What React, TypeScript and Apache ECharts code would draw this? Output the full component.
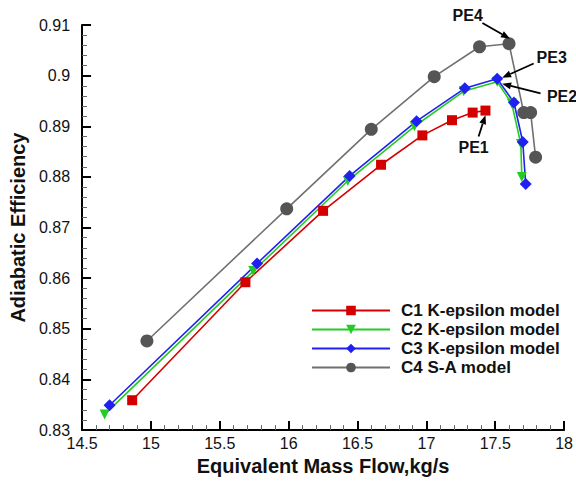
import React, { useEffect, useRef } from "react";
import * as echarts from "echarts";

const c1X = [14.864, 15.686, 16.25, 16.671, 16.971, 17.186, 17.336, 17.429];
const c1Y = [0.8359, 0.8592, 0.8733, 0.8824, 0.8882, 0.8912, 0.8927, 0.8931];

const c2X = [14.664, 15.743, 16.429, 16.914, 17.271, 17.514, 17.62, 17.686, 17.693];
const c2Y = [0.8331, 0.8614, 0.8792, 0.89, 0.8969, 0.8988, 0.8945, 0.8865, 0.88];

const c3X = [14.7, 15.771, 16.443, 16.929, 17.279, 17.514, 17.636, 17.7, 17.721];
const c3Y = [0.8349, 0.8629, 0.8802, 0.891, 0.8975, 0.8994, 0.8947, 0.8869, 0.8786];

const c4X = [14.971, 15.986, 16.6, 17.057, 17.386, 17.6, 17.707, 17.757, 17.793];
const c4Y = [0.8476, 0.8737, 0.8894, 0.8998, 0.9057, 0.9063, 0.8927, 0.8927, 0.8839];

const seriesNames = ["C1 K-epsilon model", "C2 K-epsilon model", "C3 K-epsilon model", "C4 S-A model"];

// annotations: label, text anchor (data coords), arrow start and arrow tip (data coords)
const annLabels = ["PE1", "PE2", "PE3", "PE4"];
const annText = [
  [17.343, 0.8859],
  [17.985, 0.8959],
  [17.91, 0.9035],
  [17.3, 0.9118],
];
const annArrowFrom = [
  [17.379, 0.888],
  [17.829, 0.8965],
  [17.779, 0.9024],
  [17.407, 0.9104],
];
const annArrowTo = [
  [17.429, 0.8922],
  [17.55, 0.8984],
  [17.55, 0.8996],
  [17.607, 0.9073],
];

const xTicks = { min: 14.5, max: 18, interval: 0.5 };
const yTicks = { min: 0.83, max: 0.91, interval: 0.01 };

const zip = (xs: number[], ys: number[]) => xs.map((x, i) => [x, ys[i]]);

export default function App() {
  const ref = useRef<HTMLDivElement>(null);
  useEffect(() => {
    document.body.style.margin = "0";
    const chart = echarts.init(ref.current!, undefined, { renderer: "svg" });
    const font = "Liberation Sans, Arial, sans-serif";
    const axisCommon = {
      axisLine: { show: true, onZero: false, lineStyle: { color: "#000", width: 2 } },
      axisTick: { show: true, inside: true, length: 9, lineStyle: { color: "#000", width: 2 } },
      minorTick: { show: true, splitNumber: 5, length: 5, lineStyle: { color: "#666", width: 1 } },
      splitLine: { show: false },
      axisLabel: { color: "#111", fontSize: 16, fontFamily: font },
      nameTextStyle: { color: "#111", fontSize: 20, fontWeight: "bold" as const, fontFamily: font },
    };
    const mkSeries = (name: string, data: number[][], color: string, symbol: string, size: number, rotate = 0, lineColor?: string) => ({
      name,
      type: "line",
      data,
      symbol,
      symbolSize: size,
      symbolRotate: rotate,
      clip: false,
      lineStyle: { color: lineColor || color, width: 1.6 },
      itemStyle: { color },
    });
    chart.setOption({
      animation: false,
      backgroundColor: "#fff",
      grid: { left: 81.5, right: 3, top: 25, bottom: 48, containLabel: false },
      legend: {
        data: seriesNames,
        orient: "vertical",
        left: 306,
        top: 297,
        itemWidth: 78,
        itemHeight: 12,
        itemGap: 2,
        textStyle: { color: "#111", fontSize: 17, lineHeight: 17, fontWeight: "bold", fontFamily: font, padding: [0, 0, 0, 6] },
      },
      xAxis: {
        type: "value",
        ...xTicks,
        name: "Equivalent Mass Flow,kg/s",
        nameLocation: "middle",
        nameGap: 25,
        ...axisCommon,
        axisLabel: { ...axisCommon.axisLabel, margin: 5 },
      },
      yAxis: {
        type: "value",
        ...yTicks,
        name: "Adiabatic Efficiency",
        nameLocation: "middle",
        nameGap: 36,
        ...axisCommon,
        axisLabel: { ...axisCommon.axisLabel, margin: 12 },
      },
      series: [
        mkSeries(seriesNames[0], zip(c1X, c1Y), "#d40000", "rect", 10),
        mkSeries(seriesNames[1], zip(c2X, c2Y), "#22cc22", "triangle", 10, 180),
        mkSeries(seriesNames[2], zip(c3X, c3Y), "#2020f0", "diamond", 12),
        mkSeries(seriesNames[3], zip(c4X, c4Y), "#555555", "circle", 13, 0, "#707070"),
      ],
    });

    const px = (c: number[]) => chart.convertToPixel({ xAxisIndex: 0, yAxisIndex: 0 }, c) as number[];
    const graphics: any[] = [];
    annLabels.forEach((label, i) => {
      const t = px(annText[i]);
      const a = px(annArrowFrom[i]);
      const b = px(annArrowTo[i]);
      const dx = b[0] - a[0];
      const dy = b[1] - a[1];
      const len = Math.sqrt(dx * dx + dy * dy) || 1;
      const ux = dx / len;
      const uy = dy / len;
      const hl = 9;
      const hw = 3.5;
      const bx = b[0] - ux * hl;
      const by = b[1] - uy * hl;
      graphics.push({
        type: "text",
        x: t[0],
        y: t[1],
        z: 100,
        style: { text: label, fill: "#111", fontSize: 16, fontWeight: "bold", fontFamily: font, align: "center", verticalAlign: "middle" },
      });
      graphics.push({
        type: "line",
        z: 100,
        shape: { x1: a[0], y1: a[1], x2: bx, y2: by },
        style: { stroke: "#000", lineWidth: 1.8 },
      });
      graphics.push({
        type: "polygon",
        z: 100,
        shape: { points: [[b[0], b[1]], [bx - uy * hw, by + ux * hw], [bx + uy * hw, by - ux * hw]] },
        style: { fill: "#000" },
      });
    });
    chart.setOption({ graphic: graphics });
    return () => chart.dispose();
  }, []);
  return <div ref={ref} style={{ width: 576, height: 481 }} />;
}
